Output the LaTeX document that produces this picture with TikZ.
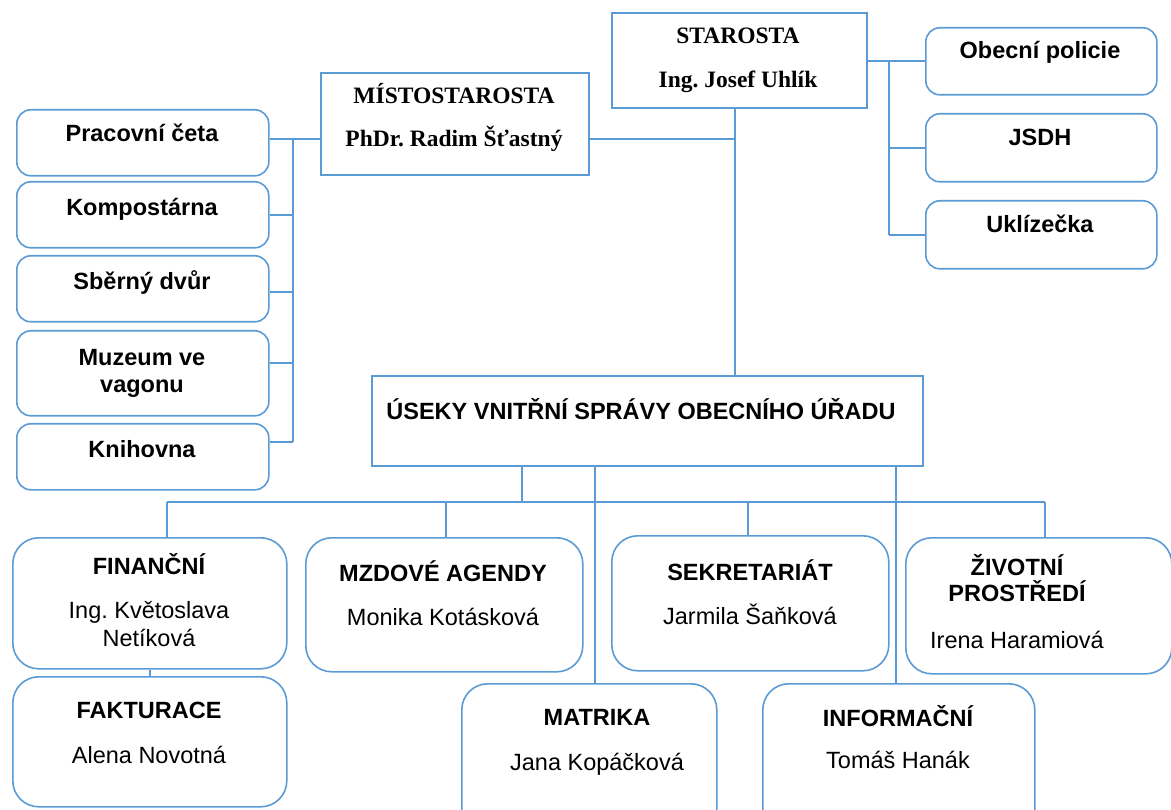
\documentclass[tikz,border=0pt]{standalone}
\usepackage{fontspec}
\setmainfont{Liberation Sans}
\newfontfamily\serifbold{Liberation Serif}
\usetikzlibrary{calc}
\definecolor{lineblue}{RGB}{91,155,213}
\frenchspacing
\tikzset{
  conn/.style={draw=lineblue, line width=1.6pt},
  sqbox/.style={draw=lineblue, line width=1.6pt, anchor=north west, inner sep=0pt, fill=white},
  rbox/.style={sqbox, rounded corners=14pt},
  bbox/.style={sqbox, rounded corners=26pt},
  ttl/.style={anchor=base, inner sep=0pt, font=\fontsize{23.5}{28}\selectfont\bfseries, align=center},
  nm/.style={anchor=base, inner sep=0pt, font=\fontsize{23.5}{28}\selectfont, align=center},
  srf/.style={anchor=base, inner sep=0pt, font=\fontsize{23.5}{28}\selectfont\serifbold\bfseries}
}
\begin{document}
\begin{tikzpicture}[x=1pt,y=-1pt]
\useasboundingbox (0,0) rectangle (1171,810);
\clip (0,0) rectangle (1171,810);
% boxes
\node[sqbox, minimum width=255, minimum height=95] (staro) at (611,12) {};
\node[sqbox, minimum width=268, minimum height=102] (mist) at (320,72) {};
\node[rbox, minimum width=252, minimum height=66] (prac) at (16,109) {};
\node[rbox, minimum width=252, minimum height=66] (komp) at (16,181) {};
\node[rbox, minimum width=252, minimum height=66] (sber) at (16,255) {};
\node[rbox, minimum width=252, minimum height=85] (muz) at (16,330) {};
\node[rbox, minimum width=252, minimum height=66] (knih) at (16,423) {};
\node[rbox, minimum width=231, minimum height=67] (obec) at (925,27) {};
\node[rbox, minimum width=231, minimum height=68] (jsdh) at (925,113) {};
\node[rbox, minimum width=231, minimum height=68] (ukl) at (925,200) {};
\node[sqbox, minimum width=551, minimum height=90] (useky) at (371,375) {};
\node[bbox, minimum width=274, minimum height=131] (fin) at (12,537) {};
\node[bbox, minimum width=274, minimum height=130] (fak) at (12,676) {};
\node[bbox, minimum width=277, minimum height=134] (mzd) at (305,537) {};
\node[bbox, minimum width=277, minimum height=135] (sekr) at (611,535) {};
\node[bbox, minimum width=266, minimum height=136] (ziv) at (905,537) {};
\node[bbox, minimum width=255, minimum height=160] (mat) at (461,683) {};
\node[bbox, minimum width=272, minimum height=160] (inf) at (762,683) {};
% texts
\node[srf] (tstaro) at (738,44) {STAROSTA};
\node[srf] (tstaro2) at (738,88) {Ing. Josef Uhlík};
\node[srf] (tmist) at (454,104) {MÍSTOSTAROSTA};
\node[srf] (tmist2) at (454,147) {PhDr. Radim Šťastný};
\node[ttl] (tprac) at (142,142) {Pracovní četa};
\node[ttl] (tkomp) at (142,216) {Kompostárna};
\node[ttl] (tsber) at (142,290) {Sběrný dvůr};
\node[ttl] (tmuz) at (142,393) {Muzeum ve\\vagonu};
\node[ttl] (tknih) at (142,457) {Knihovna};
\node[ttl] (tobec) at (1040,59) {Obecní policie};
\node[ttl] (tjsdh) at (1040,146) {JSDH};
\node[ttl] (tukl) at (1040,233) {Uklízečka};
\node[ttl] (tuseky) at (641,420) {ÚSEKY VNITŘNÍ SPRÁVY OBECNÍHO ÚŘADU};
\node[ttl] (tfin) at (149,574) {FINANČNÍ};
\node[nm] (tfin2) at (149,646) {Ing. Květoslava\\Netíková};
\node[ttl] (tfak) at (149,718) {FAKTURACE};
\node[nm] (tfak2) at (149,763) {Alena Novotná};
\node[ttl] (tmzd) at (443,581) {MZDOVÉ AGENDY};
\node[nm] (tmzd2) at (443,625) {Monika Kotásková};
\node[ttl] (tsekr) at (750,580) {SEKRETARIÁT};
\node[nm] (tsekr2) at (750,624) {Jarmila Šaňková};
\node[ttl, font=\fontsize{23.5}{26}\selectfont\bfseries] (tziv) at (1017,601) {ŽIVOTNÍ\\PROSTŘEDÍ};
\node[nm] (tziv2) at (1017,648) {Irena Haramiová};
\node[ttl] (tmat) at (597,725) {MATRIKA};
\node[nm] (tmat2) at (597,770) {Jana Kopáčková};
\node[ttl] (tinf) at (898,726) {INFORMAČNÍ};
\node[nm] (tinf2) at (898,768) {Tomáš Hanák};
% junction coordinates
\coordinate (jm) at (735,139);
\coordinate (jl) at (293,139);
\coordinate (jr) at (889,61);
\coordinate (jb) at (522,502);
\coordinate (df) at (167,502);
\coordinate (dmz) at (446,502);
\coordinate (ds) at (748,502);
\coordinate (dz) at (1045,502);
\coordinate (dm) at (595,600);
\coordinate (di) at (896,600);
% connectors
\draw[conn] (mist.east |- jm) -- (jm);
\draw[conn] (staro.south -| jm) -- (useky.north -| jm);
\draw[conn] (mist.west |- jl) -- (prac.east |- jl);
\draw[conn] (jl) -- ([yshift=15pt]knih.east -| jl);
\draw[conn] (komp.east) -- (komp.east -| jl);
\draw[conn] ([yshift=-3pt]sber.east) -- ([yshift=-3pt]sber.east -| jl);
\draw[conn] ([yshift=10pt]muz.east) -- ([yshift=10pt]muz.east -| jl);
\draw[conn] ([yshift=15pt]knih.east) -- ([yshift=15pt]knih.east -| jl);
\draw[conn] (staro.east |- jr) -- (obec.west |- jr);
\draw[conn] (jr) -- (jr |- ukl.west);
\draw[conn] (jr |- jsdh.west) -- (jsdh.west);
\draw[conn] (jr |- ukl.west) -- (ukl.west);
\draw[conn] (useky.south -| jb) -- (jb);
\draw[conn] (df) -- (dz);
\draw[conn] (df) -- (df |- fin.north);
\draw[conn] (dmz) -- (dmz |- mzd.north);
\draw[conn] (ds) -- (ds |- sekr.north);
\draw[conn] (dz) -- (dz |- ziv.north);
\draw[conn] (useky.south -| dm) -- (dm |- mat.north);
\draw[conn] (useky.south -| di) -- (di |- inf.north);
\draw[conn] (fin.south) -- (fak.north);
\end{tikzpicture}
\end{document}
